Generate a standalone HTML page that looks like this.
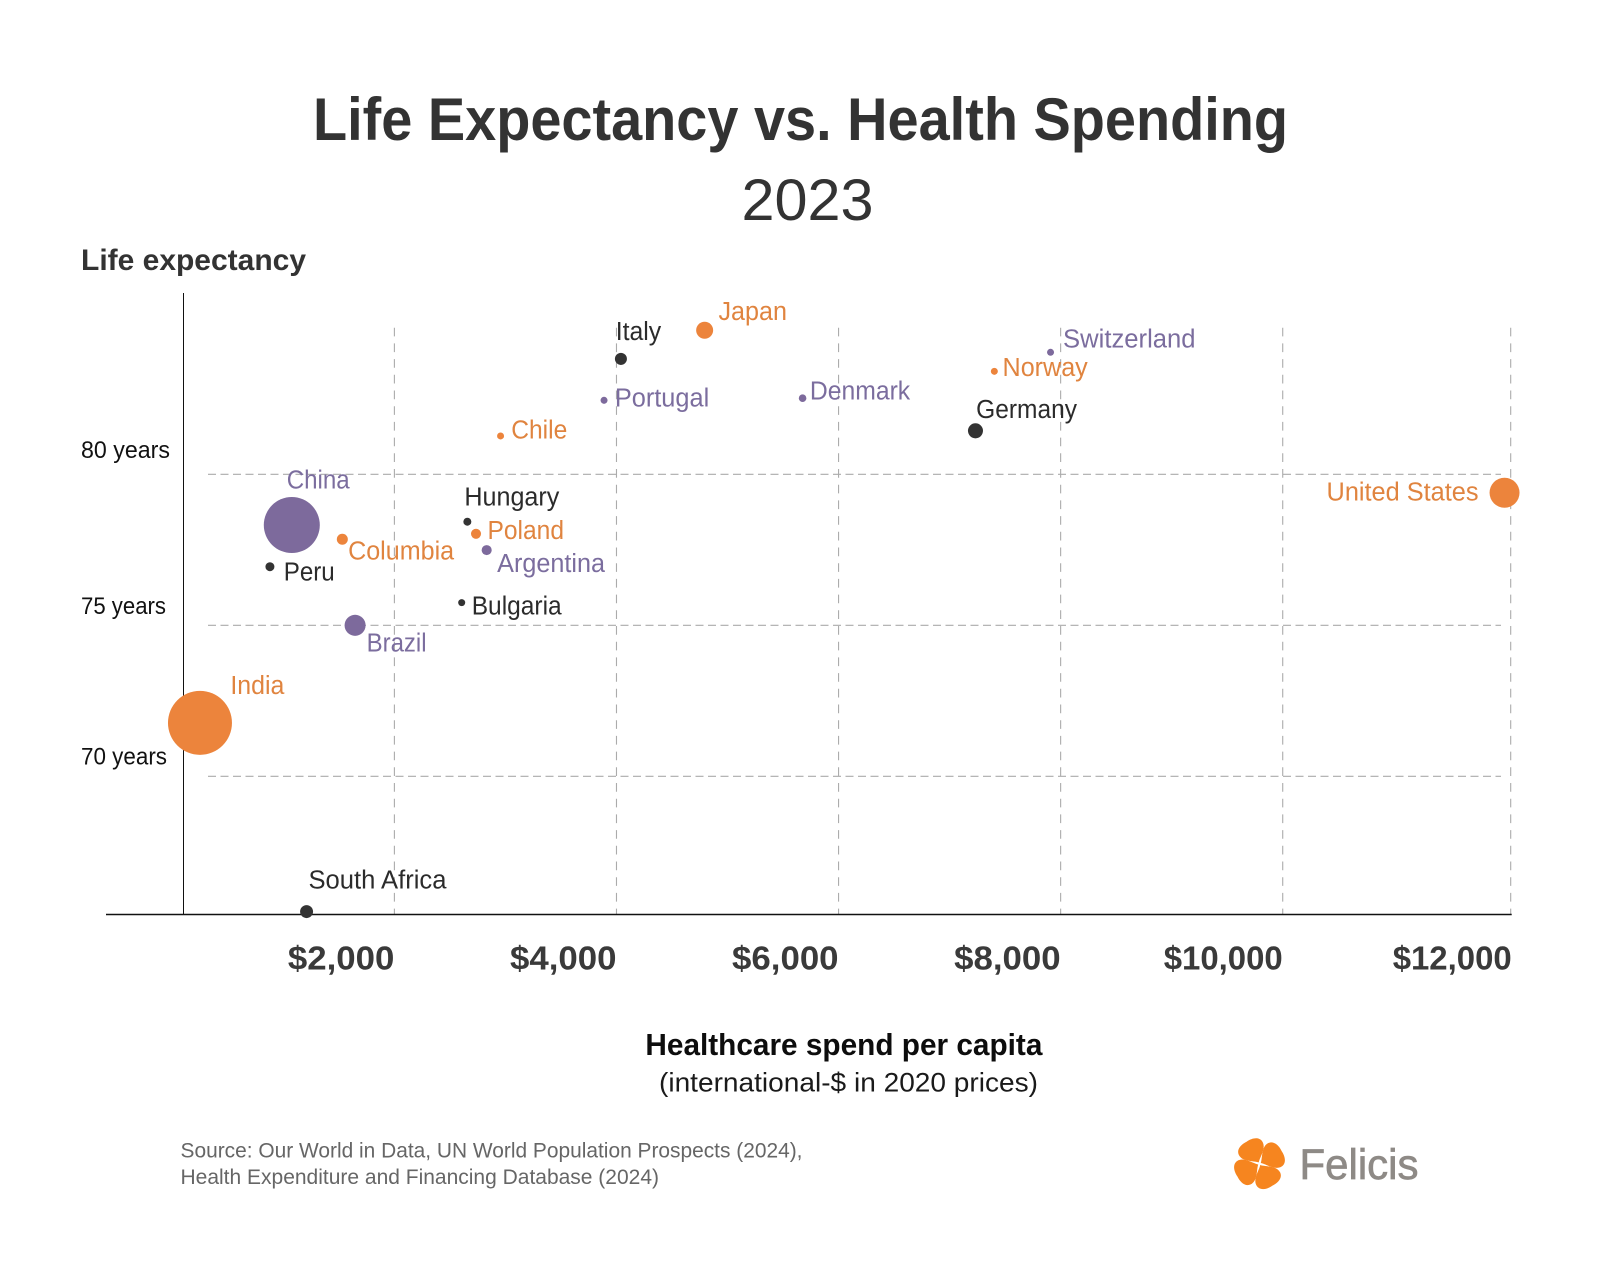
<!DOCTYPE html>
<html lang="en">
<head>
<meta charset="utf-8">
<title>Life Expectancy vs. Health Spending</title>
<style>
html,body{margin:0;padding:0;background:#fff;}
svg{display:block;font-family:"Liberation Sans",sans-serif;}
</style>
</head>
<body>
<svg id="chart" xmlns="http://www.w3.org/2000/svg" width="1600" height="1270" viewBox="0 0 1600 1270">
  <rect x="0" y="0" width="1600" height="1270" fill="#ffffff"/>
  <text x="313" y="140" font-size="60" font-weight="700" fill="#333333" textLength="975" lengthAdjust="spacingAndGlyphs">Life Expectancy vs. Health Spending</text>
  <text x="741.5" y="220" font-size="58" fill="#333333" textLength="132" lengthAdjust="spacingAndGlyphs">2023</text>
  <text x="81" y="270" font-size="30" font-weight="700" fill="#333333" textLength="225" lengthAdjust="spacingAndGlyphs">Life expectancy</text>
  <g id="grid"></g>
  <line x1="183.5" y1="293" x2="183.5" y2="914.3" stroke="#111111" stroke-width="1"/>
  <line x1="106" y1="914.5" x2="1511.7" y2="914.5" stroke="#111111" stroke-width="1.4"/>
  <g id="ticks"></g>
  <g id="points"></g>
  <g id="labels"></g>
  <text x="645.4" y="1055" font-size="31" font-weight="700" fill="#0d0d0d" textLength="397" lengthAdjust="spacingAndGlyphs">Healthcare spend per capita</text>
  <text x="659" y="1091.7" font-size="27" fill="#1a1a1a" textLength="379" lengthAdjust="spacingAndGlyphs">(international-$ in 2020 prices)</text>
  <text x="180.5" y="1157.3" font-size="21.5" fill="#666666" textLength="622" lengthAdjust="spacingAndGlyphs">Source: Our World in Data, UN World Population Prospects (2024),</text>
  <text x="180.5" y="1184" font-size="21.5" fill="#666666" textLength="478.5" lengthAdjust="spacingAndGlyphs">Health Expenditure and Financing Database (2024)</text>
  <g transform="translate(1259.5 1163.7)" fill="#f6851f">
    <path transform="rotate(-30)" d="M0,-1.5 C-4,-6 -14,-10 -13.5,-18 C-13,-24 -6,-26 0,-25.5 C6,-26 13,-24 13.5,-18 C14,-10 4,-6 0,-1.5Z"/>
    <path transform="rotate(60)" d="M0,-1.5 C-4,-6 -14,-10 -13.5,-18 C-13,-24 -6,-26 0,-25.5 C6,-26 13,-24 13.5,-18 C14,-10 4,-6 0,-1.5Z"/>
    <path transform="rotate(150)" d="M0,-1.5 C-4,-6 -14,-10 -13.5,-18 C-13,-24 -6,-26 0,-25.5 C6,-26 13,-24 13.5,-18 C14,-10 4,-6 0,-1.5Z"/>
    <path transform="rotate(240)" d="M0,-1.5 C-4,-6 -14,-10 -13.5,-18 C-13,-24 -6,-26 0,-25.5 C6,-26 13,-24 13.5,-18 C14,-10 4,-6 0,-1.5Z"/>
  </g>
  <text x="1299.5" y="1179" font-size="43" fill="#8e8a86" stroke="#8e8a86" stroke-width="0.7" textLength="119" lengthAdjust="spacingAndGlyphs">Felicis</text>
</svg>
<script>
// Data
const countries = ["China","Columbia","Peru","Hungary","Poland","Argentina","Bulgaria","Brazil","India","United States","Japan","Italy","Portugal","Chile","Denmark","Switzerland","Norway","Germany","South Africa"];
const spend = [1076,1531,879,2657,2735,2831,2606,1646,249,11946,4794,4040,3888,2956,5676,7909,7403,7233,1209];
const lifeExpectancy = [78.32,77.85,76.94,78.43,78.03,77.49,75.75,75.0,71.77,79.39,84.77,83.82,82.45,81.27,82.52,84.04,83.41,81.44,65.52];
const population = [1085,42,28,22,35,35,17,153,1417,311,100,50,17,17,20,17,17,78,58];
const groups = ["purple","orange","dark","dark","orange","purple","dark","purple","orange","orange","orange","dark","purple","orange","purple","purple","orange","dark","dark"];
const xTickValues = [2000,4000,6000,8000,10000,12000];
const xTickLabels = ["$2,000","$4,000","$6,000","$8,000","$10,000","$12,000"];
const yTickValues = [70,75,80];
const yTickLabels = ["70 years","75 years","80 years"];

// Layout only: label placement relative to each point [dx, dy, text width]
const labelLayout = {
  "China":[-5.1,-36.3,63],"Columbia":[5.8,20.5,106],"Peru":[13.8,13.6,51],"Hungary":[-3,-16,95],
  "Poland":[11.5,5,76.5],"Argentina":[10.5,21.7,107.8],"Bulgaria":[10,12,90],"Brazil":[11.5,26,60],
  "India":[30.4,-28.7,54],"United States":[-178,8,152],"Japan":[13.8,-10,68.5],"Italy":[-5.2,-19,45.5],
  "Portugal":[10.8,6.4,94.4],"Chile":[10.7,2.7,56],"Denmark":[7.3,1.5,100.3],"Switzerland":[12.5,-4.6,132.5],
  "Norway":[8.2,4.7,85.2],"Germany":[0.7,-13,100.8],"South Africa":[1.9,-23,138]
};
const yTickLabelLift = {70:11.6,75:11.3,80:16.3};
const yTickLabelWidth = {70:86,75:85,80:89};

const NS = "http://www.w3.org/2000/svg";
const colours = {
  purple:{dot:"#7d6a9c",text:"#7b6d9e"},
  orange:{dot:"#ec843c",text:"#e0843f"},
  dark:{dot:"#333333",text:"#2b2b2b"}
};

// Axis functions (the supplied x axis widens slightly after $10,000)
function xScale(v){
  return v <= 10000 ? 394.4 + (v - 2000) * 0.11104 : 1282.7 + (v - 10000) * 0.114;
}
function yScale(v){
  return 474.3 + (80 - v) * 30.2;
}
function rScale(p){
  return 0.85 * Math.sqrt(p);
}

const gridG = document.getElementById("grid");
const ticksG = document.getElementById("ticks");
const pointsG = document.getElementById("points");
const labelsG = document.getElementById("labels");

xTickValues.forEach(function(v, i){
  const l = document.createElementNS(NS, "line");
  
  
  l.setAttribute("x1", xScale(v));
  l.setAttribute("x2", xScale(v));
  l.setAttribute("y1", 327.7);
  l.setAttribute("y2", 914.3);
  l.setAttribute("stroke", "#ababab");
  l.setAttribute("stroke-width", 1.1);
  l.setAttribute("stroke-dasharray", "8.7 7");
  gridG.appendChild(l);

  const t = document.createElementNS(NS, "text");
  
  
  const w = xTickLabels[i].length > 6 ? 119 : 106.5;
  t.setAttribute("x", xScale(v) - w + (i === xTickValues.length - 1 ? 1 : 0));
  t.setAttribute("y", 969.3);
  t.setAttribute("font-size", 33);
  t.setAttribute("font-weight", 700);
  t.setAttribute("fill", "#3a3a3a");
  t.setAttribute("textLength", w);
  t.setAttribute("lengthAdjust", "spacingAndGlyphs");
  t.textContent = xTickLabels[i];
  ticksG.appendChild(t);
});

yTickValues.forEach(function(v, i){
  const l = document.createElementNS(NS, "line");
  
  
  l.setAttribute("x1", 208);
  l.setAttribute("x2", 1501);
  l.setAttribute("y1", yScale(v));
  l.setAttribute("y2", yScale(v));
  l.setAttribute("stroke", "#ababab");
  l.setAttribute("stroke-width", 1.1);
  l.setAttribute("stroke-dasharray", "8 4.5");
  gridG.appendChild(l);

  const t = document.createElementNS(NS, "text");
  
  
  t.setAttribute("x", 81);
  t.setAttribute("y", yScale(v) - yTickLabelLift[v]);
  t.setAttribute("font-size", 24);
  t.setAttribute("fill", "#111111");
  t.setAttribute("textLength", yTickLabelWidth[v]);
  t.setAttribute("lengthAdjust", "spacingAndGlyphs");
  t.textContent = yTickLabels[i];
  ticksG.appendChild(t);
});

countries.forEach(function(name, i){
  const cx = xScale(spend[i]);
  const cy = yScale(lifeExpectancy[i]);
  const c = document.createElementNS(NS, "circle");
  
  
  c.setAttribute("cx", cx);
  c.setAttribute("cy", cy);
  c.setAttribute("r", rScale(population[i]));
  c.setAttribute("fill", colours[groups[i]].dot);
  pointsG.appendChild(c);

  const layout = labelLayout[name];
  const t = document.createElementNS(NS, "text");
  
  
  t.setAttribute("x", cx + layout[0]);
  t.setAttribute("y", cy + layout[1]);
  t.setAttribute("font-size", 25.5);
  t.setAttribute("fill", colours[groups[i]].text);
  t.setAttribute("textLength", layout[2]);
  t.setAttribute("lengthAdjust", "spacingAndGlyphs");
  t.textContent = name;
  labelsG.appendChild(t);
});
</script>
</body>
</html>
